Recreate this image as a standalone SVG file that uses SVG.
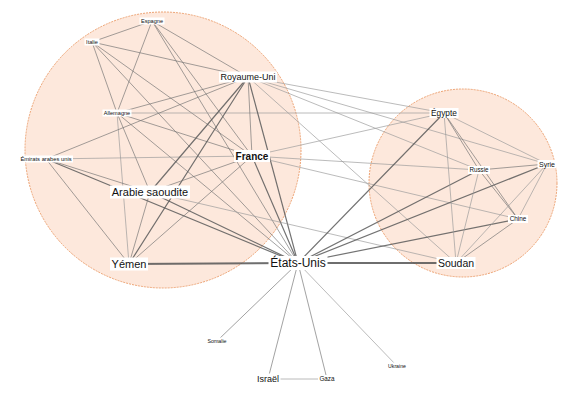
<svg xmlns="http://www.w3.org/2000/svg" width="572" height="402" viewBox="0 0 572 402">
<style>
.bg{fill:#ffffff}
.cl{fill:#fde8dc;stroke:#eda272;stroke-width:1;stroke-dasharray:2 1}
.e{fill:none;stroke-linecap:round}
.l{stroke:#9a9a9a;stroke-width:0.9;stroke-opacity:0.75}
.m{stroke:#707070;stroke-width:0.9;stroke-opacity:0.72}
.d{stroke:#5a5a5a;stroke-width:1.2;stroke-opacity:0.85}
.t{stroke:#555555;stroke-width:2;stroke-opacity:0.85}
.lb{fill:#ffffff}
text{font-family:"Liberation Sans",Arial,sans-serif;fill:#111;text-anchor:middle}
</style>
<rect class="bg" x="0" y="0" width="572" height="402"/>
<g id="clusters">
<circle class="cl" cx="163" cy="150" r="138"/>
<circle class="cl" cx="463" cy="183" r="94"/>
</g>
<g id="edges" class="e">
<line class="m" x1="152" y1="21" x2="92" y2="42"/>
<line class="m" x1="152" y1="21" x2="117" y2="113"/>
<line class="m" x1="152" y1="21" x2="248" y2="77"/>
<line class="m" x1="152" y1="21" x2="252" y2="156"/>
<line class="m" x1="152" y1="21" x2="298" y2="263"/>
<line class="m" x1="92" y1="42" x2="117" y2="113"/>
<line class="m" x1="92" y1="42" x2="248" y2="77"/>
<line class="m" x1="92" y1="42" x2="252" y2="156"/>
<line class="m" x1="92" y1="42" x2="298" y2="263"/>
<line class="m" x1="117" y1="113" x2="248" y2="77"/>
<line class="l" x1="117" y1="113" x2="444" y2="113"/>
<line class="m" x1="117" y1="113" x2="252" y2="156"/>
<line class="m" x1="117" y1="113" x2="298" y2="263"/>
<line class="m" x1="117" y1="113" x2="150" y2="192"/>
<line class="l" x1="117" y1="113" x2="129" y2="264"/>
<line class="m" x1="46" y1="159" x2="248" y2="77"/>
<line class="l" x1="46" y1="159" x2="252" y2="156"/>
<line class="m" x1="46" y1="159" x2="150" y2="192"/>
<line class="m" x1="46" y1="159" x2="129" y2="264"/>
<line class="d" x1="46" y1="159" x2="298" y2="263"/>
<line class="m" x1="248" y1="77" x2="252" y2="156"/>
<line class="d" x1="248" y1="77" x2="298" y2="263"/>
<line class="d" x1="248" y1="77" x2="150" y2="192"/>
<line class="d" x1="248" y1="77" x2="129" y2="264"/>
<line class="l" x1="248" y1="77" x2="444" y2="113"/>
<line class="l" x1="248" y1="77" x2="547" y2="164"/>
<line class="l" x1="248" y1="77" x2="479" y2="170"/>
<line class="l" x1="248" y1="77" x2="456" y2="263"/>
<line class="m" x1="252" y1="156" x2="150" y2="192"/>
<line class="m" x1="252" y1="156" x2="129" y2="264"/>
<line class="d" x1="252" y1="156" x2="298" y2="263"/>
<line class="l" x1="252" y1="156" x2="444" y2="113"/>
<line class="l" x1="252" y1="156" x2="479" y2="170"/>
<line class="l" x1="252" y1="156" x2="518" y2="219"/>
<line class="m" x1="150" y1="192" x2="129" y2="264"/>
<line class="d" x1="150" y1="192" x2="298" y2="263"/>
<line class="l" x1="150" y1="192" x2="456" y2="263"/>
<line class="t" x1="129" y1="264" x2="298" y2="263"/>
<line class="d" x1="298" y1="263" x2="444" y2="113"/>
<line class="d" x1="298" y1="263" x2="479" y2="170"/>
<line class="d" x1="298" y1="263" x2="547" y2="164"/>
<line class="d" x1="298" y1="263" x2="518" y2="219"/>
<line class="t" x1="298" y1="263" x2="456" y2="263"/>
<line class="m" x1="298" y1="263" x2="217" y2="341"/>
<line class="m" x1="298" y1="263" x2="268" y2="379"/>
<line class="m" x1="298" y1="263" x2="327" y2="379"/>
<line class="l" x1="298" y1="263" x2="397" y2="366"/>
<line class="l" x1="444" y1="113" x2="547" y2="164"/>
<line class="m" x1="444" y1="113" x2="479" y2="170"/>
<line class="m" x1="444" y1="113" x2="518" y2="219"/>
<line class="l" x1="444" y1="113" x2="456" y2="263"/>
<line class="m" x1="479" y1="170" x2="547" y2="164"/>
<line class="m" x1="479" y1="170" x2="518" y2="219"/>
<line class="l" x1="479" y1="170" x2="456" y2="263"/>
<line class="l" x1="547" y1="164" x2="518" y2="219"/>
<line class="l" x1="547" y1="164" x2="456" y2="263"/>
<line class="m" x1="518" y1="219" x2="456" y2="263"/>
<line class="l" x1="268" y1="379" x2="327" y2="379"/>
</g>
<g id="n-espagne"><rect class="lb" x="139.5" y="17.5" width="25" height="7"/><text x="152" y="23" font-size="5.6">Espagne</text></g>
<g id="n-italie"><rect class="lb" x="84.5" y="38.5" width="15" height="7"/><text x="92" y="44" font-size="5.6">Italie</text></g>
<g id="n-allemagne"><rect class="lb" x="102.5" y="109.5" width="29" height="7"/><text x="117" y="115" font-size="5.6">Allemagne</text></g>
<g id="n-emirats"><rect class="lb" x="19" y="155.5" width="54" height="7"/><text x="46" y="161" font-size="5.8">Émirats arabes unis</text></g>
<g id="n-royaume-uni"><rect class="lb" x="219" y="71.5" width="58" height="11"/><text x="248" y="80.2" font-size="9">Royaume-Uni</text></g>
<g id="n-france"><rect class="lb" x="234" y="150" width="36" height="12"/><text x="252" y="159.6" font-size="10" font-weight="bold">France</text></g>
<g id="n-arabie"><rect class="lb" x="110" y="185.5" width="80" height="13"/><text x="150" y="196" font-size="11">Arabie saoudite</text></g>
<g id="n-yemen"><rect class="lb" x="110" y="257.5" width="38" height="13"/><text x="129" y="268" font-size="11">Yémen</text></g>
<g id="n-etats-unis"><rect class="lb" x="268.5" y="256" width="59" height="14"/><text x="298" y="267.3" font-size="12">États-Unis</text></g>
<g id="n-egypte"><rect class="lb" x="429.5" y="108" width="29" height="10"/><text x="444" y="116" font-size="8.3">Égypte</text></g>
<g id="n-russie"><rect class="lb" x="468" y="166" width="22" height="8"/><text x="479" y="172.3" font-size="6.3">Russie</text></g>
<g id="n-syrie"><rect class="lb" x="537.5" y="160" width="19" height="8"/><text x="547" y="166.5" font-size="7">Syrie</text></g>
<g id="n-chine"><rect class="lb" x="508" y="215" width="20" height="8"/><text x="518" y="221.3" font-size="6.4">Chine</text></g>
<g id="n-soudan"><rect class="lb" x="436.5" y="257" width="39" height="12"/><text x="456" y="266.7" font-size="10.5">Soudan</text></g>
<g id="n-somalie"><rect class="lb" x="206" y="337.5" width="22" height="7"/><text x="217" y="342.9" font-size="5.3">Somalie</text></g>
<g id="n-israel"><rect class="lb" x="255.5" y="373.5" width="25" height="11"/><text x="268" y="382.2" font-size="9">Israël</text></g>
<g id="n-gaza"><rect class="lb" x="318" y="375" width="18" height="8"/><text x="327" y="381.2" font-size="6.3">Gaza</text></g>
<g id="n-ukraine"><rect class="lb" x="386.5" y="362.5" width="21" height="7"/><text x="397" y="367.8" font-size="5.2">Ukraine</text></g>
</svg>
